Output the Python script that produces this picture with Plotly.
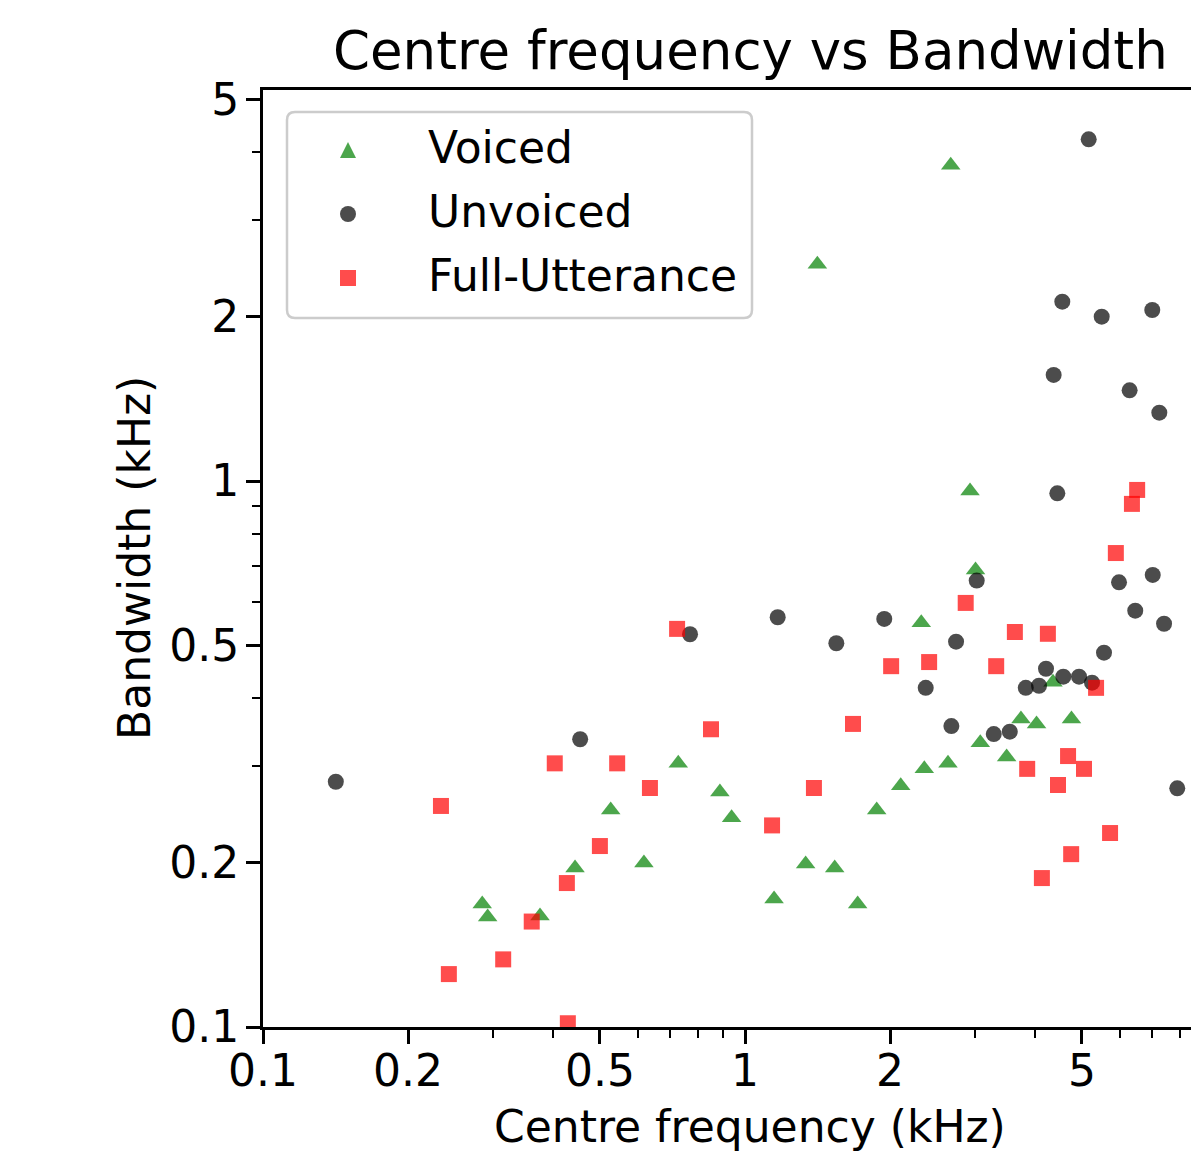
import plotly.graph_objects as go

# ---------------- data (kHz) ----------------
voiced_cf = [0.285, 0.2925, 0.3756, 0.444, 0.5265, 0.617, 0.727, 0.887, 0.938, 1.149,
             1.336, 1.535, 1.713, 1.876, 2.104, 2.355, 2.637, 3.077, 3.49, 3.737,
             4.026, 4.355, 4.757, 2.321, 2.93, 3.008, 1.413, 2.672]
voiced_bw = [0.168, 0.159, 0.1597, 0.1955, 0.2497, 0.1997, 0.304, 0.2694, 0.2417, 0.1716,
             0.1988, 0.1955, 0.168, 0.2497, 0.2766, 0.297, 0.304, 0.3317, 0.3122, 0.3665,
             0.359, 0.428, 0.3665, 0.550, 0.959, 0.687, 2.494, 3.786]

unvoiced_cf = [0.1416, 0.455, 0.769, 1.169, 1.547, 1.945, 2.371, 2.68, 2.741, 3.025,
               3.282, 3.543, 3.824, 4.074, 4.212, 4.575, 4.932, 5.248, 5.557, 4.446,
               5.97, 6.451, 7.013, 7.403, 7.886, 5.165, 4.553, 5.496, 6.998, 4.369,
               6.28, 7.237]
unvoiced_bw = [0.2813, 0.3365, 0.524, 0.5629, 0.5044, 0.559, 0.418, 0.3558, 0.5078, 0.657,
               0.344, 0.3474, 0.418, 0.4217, 0.4531, 0.4381, 0.4381, 0.4272, 0.4849, 0.9494,
               0.6523, 0.5787, 0.6729, 0.5477, 0.2736, 4.225, 2.13, 2.0, 2.057, 1.564,
               1.466, 1.334]

full_cf = [0.234, 0.243, 0.315, 0.361, 0.427, 0.500, 0.403, 0.543, 0.635, 0.429,
           0.723, 0.850, 1.138, 1.39, 1.675, 2.01, 2.41, 2.87, 3.32, 3.63,
           4.25, 3.85, 4.13, 4.46, 4.68, 5.05, 5.35, 5.72, 4.75, 5.88,
           6.35, 6.51]
full_bw = [0.254, 0.125, 0.133, 0.156, 0.1835, 0.2145, 0.304, 0.304, 0.274, 0.1016,
           0.536, 0.351, 0.234, 0.274, 0.359, 0.458, 0.466, 0.598, 0.458, 0.529,
           0.525, 0.297, 0.1874, 0.2775, 0.3135, 0.297, 0.418, 0.2266, 0.2073, 0.738,
           0.908, 0.963]

series_names = ["Voiced", "Unvoiced", "Full-Utterance"]
series_colors = ["#008000", "#000000", "#FF0000"]

major_ticks = [0.1, 0.2, 0.5, 1, 2, 5]
major_labels = ["0.1", "0.2", "0.5", "1", "2", "5"]
minor_ticks = [0.3, 0.4, 0.6, 0.7, 0.8, 0.9, 3, 4, 6, 7, 8, 9]

# ---------------- layout geometry (pixels) ----------------
W, H = 1191, 1153
L, R, T, B = 263, 1191, 90, 1027
pw, ph = R - L, B - T
FONT = "DejaVu Sans"
FS = 44


def px(x):
    return (x - L) / pw


def py(y):
    return (B - y) / ph


fig = go.Figure()
fig.add_trace(go.Scatter(x=voiced_cf, y=voiced_bw, mode="markers", name=series_names[0],
                         marker=dict(symbol="triangle-up", size=17, color=series_colors[0],
                                     opacity=0.7, line=dict(width=0))))
fig.add_trace(go.Scatter(x=unvoiced_cf, y=unvoiced_bw, mode="markers", name=series_names[1],
                         marker=dict(symbol="circle", size=16, color=series_colors[1],
                                     opacity=0.7, line=dict(width=0))))
fig.add_trace(go.Scatter(x=full_cf, y=full_bw, mode="markers", name=series_names[2],
                         marker=dict(symbol="square", size=16, color=series_colors[2],
                                     opacity=0.7, line=dict(width=0))))

x_decade = 482.0
y_decade = 546.0
x_range = [-1, -1 + pw / x_decade]
y_range = [-1, -1 + ph / y_decade]

axis_common = dict(
    type="log", showgrid=False, zeroline=False, showline=True, linecolor="black",
    linewidth=3, ticks="outside", ticklen=14, tickwidth=3, tickcolor="black",
    tickmode="array", tickvals=major_ticks, ticktext=major_labels,
    tickfont=dict(family=FONT, size=FS, color="black"),
    minor=dict(ticks="outside", ticklen=8, tickwidth=2.4, tickcolor="black",
               tickmode="array", tickvals=minor_ticks, showgrid=False),
)

fig.update_layout(
    width=W, height=H,
    margin=dict(l=L, r=W - R, t=T, b=H - B, pad=0),
    paper_bgcolor="white", plot_bgcolor="white",
    showlegend=False,
    font=dict(family=FONT, color="black"),
    xaxis=dict(range=x_range, mirror=True, ticklabelstandoff=-11, **axis_common),
    yaxis=dict(range=y_range, mirror=False, ticklabelstandoff=-2, **axis_common),
)

annotations = [
    dict(text="Centre frequency vs Bandwidth", xref="paper", yref="paper",
         x=px(750), y=py(50), xanchor="center", yanchor="middle", showarrow=False,
         font=dict(family=FONT, size=53, color="black")),
    dict(text="Centre frequency (kHz)", xref="paper", yref="paper",
         x=px(750), y=py(1126), xanchor="center", yanchor="middle", showarrow=False,
         font=dict(family=FONT, size=FS, color="black")),
    dict(text="Bandwidth (kHz)", xref="paper", yref="paper", textangle=-90,
         x=px(134), y=py(558), xanchor="center", yanchor="middle", showarrow=False,
         font=dict(family=FONT, size=FS, color="black")),
]

# ---------------- legend (drawn manually) ----------------
bx0, by0, bx1, by1, rad = 287, 112, 752, 318, 8


def rounded_path(x0, y0, x1, y1, r):
    pts = [
        f"M {px(x0 + r)} {py(y0)}",
        f"L {px(x1 - r)} {py(y0)}",
        f"Q {px(x1)} {py(y0)} {px(x1)} {py(y0 + r)}",
        f"L {px(x1)} {py(y1 - r)}",
        f"Q {px(x1)} {py(y1)} {px(x1 - r)} {py(y1)}",
        f"L {px(x0 + r)} {py(y1)}",
        f"Q {px(x0)} {py(y1)} {px(x0)} {py(y1 - r)}",
        f"L {px(x0)} {py(y0 + r)}",
        f"Q {px(x0)} {py(y0)} {px(x0 + r)} {py(y0)}",
        "Z",
    ]
    return " ".join(pts)


shapes = [dict(type="path", xref="paper", yref="paper", path=rounded_path(bx0, by0, bx1, by1, rad),
               fillcolor="rgba(255,255,255,0.8)", line=dict(color="#cccccc", width=2.5), layer="above")]

mx = 348
rows = [150, 214, 278]
s = 8
# triangle
cy = rows[0]
shapes.append(dict(type="path", xref="paper", yref="paper",
                   path=f"M {px(mx - s)} {py(cy + s)} L {px(mx + s)} {py(cy + s)} "
                        f"L {px(mx)} {py(cy - s)} Z",
                   fillcolor=series_colors[0], opacity=0.7, line=dict(width=0), layer="above"))
# circle
cy = rows[1]
shapes.append(dict(type="circle", xref="paper", yref="paper",
                   x0=px(mx - s), x1=px(mx + s), y0=py(cy + s), y1=py(cy - s),
                   fillcolor=series_colors[1], opacity=0.7, line=dict(width=0), layer="above"))
# square
cy = rows[2]
shapes.append(dict(type="rect", xref="paper", yref="paper",
                   x0=px(mx - s), x1=px(mx + s), y0=py(cy + s), y1=py(cy - s),
                   fillcolor=series_colors[2], opacity=0.7, line=dict(width=0), layer="above"))

for name, cy in zip(series_names, rows):
    annotations.append(dict(text=name, xref="paper", yref="paper", x=px(426), y=py(cy - 3),
                            xanchor="left", yanchor="middle", showarrow=False,
                            font=dict(family=FONT, size=FS, color="black")))

fig.update_layout(annotations=annotations, shapes=shapes)
fig.write_html("out.html")
